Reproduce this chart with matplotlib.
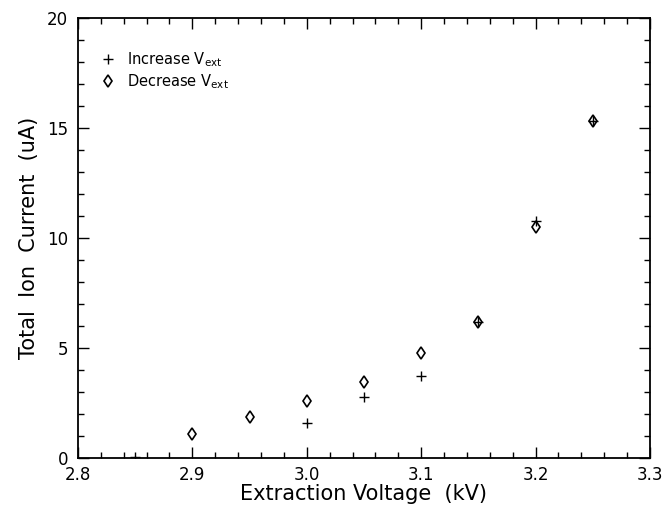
#!/usr/bin/env python3
"""Total ion current vs extraction voltage (increase / decrease sweep)."""

import matplotlib

matplotlib.use("Agg")
import matplotlib.pyplot as plt
from matplotlib.ticker import MultipleLocator

# data
v_increase = [2.85, 3.00, 3.05, 3.10, 3.15, 3.20, 3.25]
i_increase = [0.05, 1.6, 2.75, 3.72, 6.2, 10.75, 15.3]

v_decrease = [2.90, 2.95, 3.00, 3.05, 3.10, 3.15, 3.20, 3.25]
i_decrease = [1.08, 1.85, 2.6, 3.45, 4.78, 6.18, 10.5, 15.3]

x_ticks = [2.8, 2.9, 3.0, 3.1, 3.2, 3.3]
y_ticks = [0, 5, 10, 15, 20]

plt.rcParams["font.family"] = "DejaVu Sans"

fig = plt.figure(figsize=(6.7, 5.12), dpi=100)
ax = fig.add_axes([0.1164, 0.1055, 0.8536, 0.8595])

ax.plot(v_increase, i_increase, ls="none", marker="+", ms=7, mew=1.0,
        color="black", label=r"Increase V$_{\rm ext}$")
ax.plot(v_decrease, i_decrease, ls="none", marker="d", ms=6, mew=1.2,
        mfc="none", color="black", label=r"Decrease V$_{\rm ext}$")

ax.set_xlim(2.8, 3.3)
ax.set_ylim(0, 20)
ax.set_xticks(x_ticks)
ax.set_xticklabels([f"{t:.1f}" for t in x_ticks])
ax.set_yticks(y_ticks)
ax.xaxis.set_minor_locator(MultipleLocator(0.02))
ax.yaxis.set_minor_locator(MultipleLocator(1))
ax.tick_params(which="both", direction="in", top=True, right=True, labelsize=12)
ax.tick_params(axis="x", which="major", pad=6)
ax.tick_params(axis="y", which="major", pad=7)
ax.tick_params(which="major", length=8, width=1)
ax.tick_params(which="minor", length=4, width=1)
for s in ax.spines.values():
    s.set_linewidth(1.3)

ax.set_xlabel("Extraction Voltage  (kV)", fontsize=15, labelpad=0)
ax.set_ylabel("Total  Ion  Current  (uA)", fontsize=15, labelpad=6)

ax.legend(loc="upper left", bbox_to_anchor=(0.027, 0.94), frameon=False,
          fontsize=10.5, handletextpad=0.7, labelspacing=0.25,
          borderaxespad=0, handlelength=1.2)

fig.savefig("out.png", dpi=100)
